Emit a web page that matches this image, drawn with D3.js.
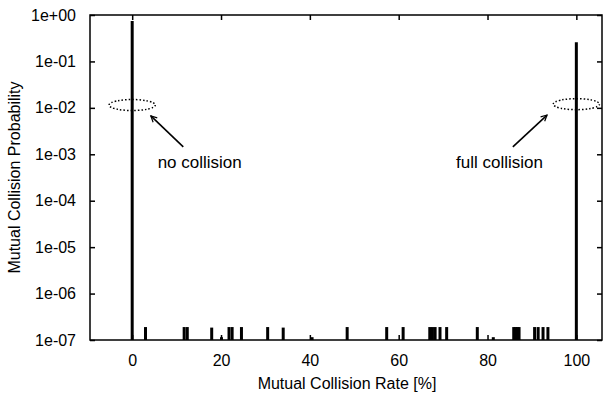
<!DOCTYPE html>
<html lang="en">
<head>
  <meta charset="UTF-8">
  <title>Mutual Collision Probability</title>
  <script src="https://d3js.org/d3.v7.min.js"></script>
  <style>
    body {
      margin: 0;
      background: #fff;
      font-family: "Liberation Sans", Arial, Helvetica, sans-serif;
    }
    svg text {
      fill: #000;
      font-size: 16px;
    }
  </style>
</head>
<body>

<svg id="chart" width="604" height="397"></svg>

<script>
  // collision rate [%] of each histogram bar and its probability
  const rates = [0, 3.0, 11.7, 12.4, 17.9, 20.1, 21.8, 22.5, 24.6, 30.5, 34.0, 40.5,
    48.4, 57.3, 61.0, 67.0, 67.6, 68.2, 69.3, 70.8, 77.7, 81.3,
    85.9, 86.3, 86.7, 87.1, 90.6, 91.4, 92.5, 93.6, 100];
  const probs = [0.74, 1.9e-7, 1.9e-7, 1.9e-7, 1.85e-7, 1.15e-7, 1.9e-7, 1.9e-7, 1.9e-7, 1.9e-7, 1.85e-7, 1.15e-7,
    1.9e-7, 1.9e-7, 1.9e-7, 1.9e-7, 1.9e-7, 1.9e-7, 1.9e-7, 1.9e-7, 1.9e-7, 1.15e-7,
    1.9e-7, 1.9e-7, 1.9e-7, 1.9e-7, 1.9e-7, 1.9e-7, 1.9e-7, 1.9e-7, 0.26];

  const xTicks = [0, 20, 40, 60, 80, 100];
  const yTicks = [1, 1e-1, 1e-2, 1e-3, 1e-4, 1e-5, 1e-6, 1e-7];
  const yTickLabels = ["1e+00", "1e-01", "1e-02", "1e-03", "1e-04", "1e-05", "1e-06", "1e-07"];

  // annotations: [label, text x, text y, arrow tail x, tail y, head x, head y, ellipse x, ellipse y]
  const notes = [
    ["no collision", 15.2, 5.0e-4, 11.5, 1.44e-3, 4.2, 6.7e-3, 0, 0.0115],
    ["full collision", 82.7, 5.0e-4, 85.7, 1.45e-3, 93.4, 7.0e-3, 100, 0.012]
  ];

  const svg = d3.select("#chart");
  const mLeft = 90, mRight = 602, mTop = 15, mBottom = 340;

  const x = d3.scaleLinear().domain([-9.5, 106]).range([mLeft, mRight + 1]);
  const y = d3.scaleLog().domain([1e-7, 1]).range([mBottom, mTop]);

  // bars
  svg.append("g")
    .selectAll("line")
    .data(rates)
    .join("line")
    .attr("x1", d => x(d))
    .attr("x2", d => x(d))
    .attr("y1", y(1e-7))
    .attr("y2", (d, i) => y(probs[i]))
    .attr("stroke", "#000")
    .attr("stroke-width", 3);

  // frame
  svg.append("rect")
    .attr("x", mLeft).attr("y", mTop)
    .attr("width", mRight - mLeft).attr("height", mBottom - mTop)
    .attr("fill", "none")
    .attr("stroke", "#000")
    .attr("stroke-width", 1.5);

  // x axis (ticks inward, mirrored on top)
  const xAxis = svg.append("g")
    .attr("transform", `translate(0,${mBottom})`)
    .call(d3.axisBottom(x).tickValues(xTicks).tickSizeInner(-5).tickSizeOuter(0).tickPadding(15));
  xAxis.select(".domain").remove();
  xAxis.selectAll("line").attr("stroke-width", 1.5);
  xAxis.selectAll("text").attr("font-size", "16px").attr("fill", "#000");

  svg.append("g")
    .attr("transform", `translate(0,${mTop})`)
    .call(d3.axisTop(x).tickValues(xTicks).tickSizeInner(-5).tickSizeOuter(0).tickFormat(""))
    .call(g => g.select(".domain").remove())
    .selectAll("line").attr("stroke-width", 1.5);

  // y axis
  const yAxis = svg.append("g")
    .attr("transform", `translate(${mLeft},0)`)
    .call(d3.axisLeft(y).tickValues(yTicks).tickSizeInner(-5).tickSizeOuter(0).tickPadding(14)
      .tickFormat((d, i) => yTickLabels[i]));
  yAxis.select(".domain").remove();
  yAxis.selectAll("line").attr("stroke-width", 1.5);
  yAxis.selectAll("text").attr("font-size", "16px").attr("fill", "#000");

  svg.append("g")
    .attr("transform", `translate(${mRight},0)`)
    .call(d3.axisRight(y).tickValues(yTicks).tickSizeInner(-5).tickSizeOuter(0).tickFormat(""))
    .call(g => g.select(".domain").remove())
    .selectAll("line").attr("stroke-width", 1.5);

  // axis titles
  svg.append("text")
    .attr("x", (mLeft + mRight) / 2 + 1)
    .attr("y", 389)
    .attr("text-anchor", "middle")
    .text("Mutual Collision Rate [%]");

  svg.append("text")
    .attr("transform", `translate(20,${(mTop + mBottom) / 2}) rotate(-90)`)
    .attr("text-anchor", "middle")
    .text("Mutual Collision Probability");

  // arrow marker
  svg.append("defs").append("marker")
    .attr("id", "head")
    .attr("viewBox", "-10 -5 12 10")
    .attr("refX", 0).attr("refY", 0)
    .attr("markerWidth", 9).attr("markerHeight", 9)
    .attr("markerUnits", "userSpaceOnUse")
    .attr("orient", "auto")
    .append("path")
    .attr("d", "M-8,-4 L0,0 L-8,4")
    .attr("fill", "none")
    .attr("stroke", "#000")
    .attr("stroke-width", 1.6);

  const ann = svg.append("g");
  notes.forEach(n => {
    ann.append("text")
      .attr("x", x(n[1]))
      .attr("y", y(n[2]))
      .attr("text-anchor", "middle")
      .style("font-size", "17px")
      .text(n[0]);

    ann.append("line")
      .attr("x1", x(n[3])).attr("y1", y(n[4]))
      .attr("x2", x(n[5])).attr("y2", y(n[6]))
      .attr("stroke", "#000")
      .attr("stroke-width", 1.6)
      .attr("marker-end", "url(#head)");

    ann.append("ellipse")
      .attr("cx", x(n[7]))
      .attr("cy", y(n[8]))
      .attr("rx", x(5.2) - x(0))
      .attr("ry", 5.5)
      .attr("fill", "none")
      .attr("stroke", "#000")
      .attr("stroke-width", 1.5)
      .attr("stroke-dasharray", "1.5,2");
  });
</script>

</body>
</html>
